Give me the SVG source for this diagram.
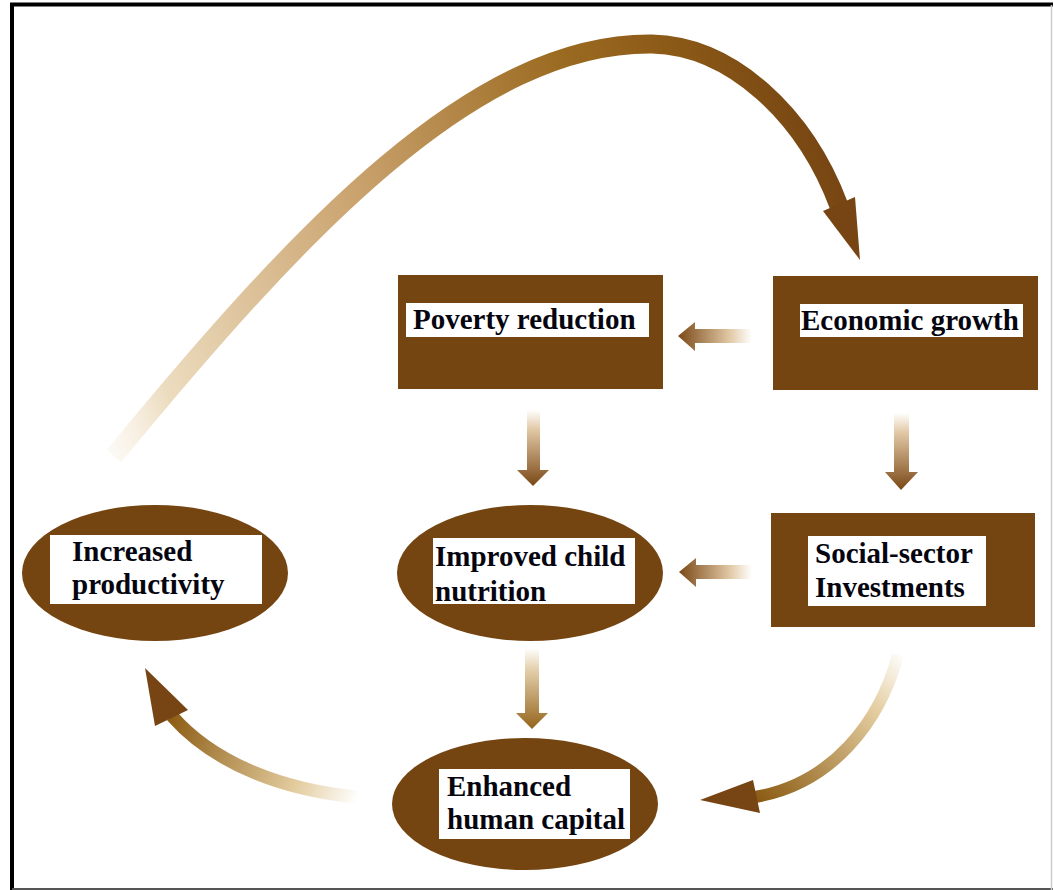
<svg xmlns="http://www.w3.org/2000/svg" width="1053" height="890" viewBox="0 0 1053 890">
  <style>
    .node { fill: #744411; }
    .label { fill: #ffffff; }
    .txt { font-family: "Liberation Serif", "Times New Roman", serif; font-weight: bold; font-size: 29px; fill: #050510; }
    .head { fill: #774514; }
  </style>
  <defs>
    <linearGradient id="gArc" gradientUnits="userSpaceOnUse" x1="105" y1="460" x2="860" y2="180">
      <stop offset="0" stop-color="#f6ecdc" stop-opacity="0.2"/>
      <stop offset="0.1" stop-color="#ecdcbf"/>
      <stop offset="0.4" stop-color="#cba470"/>
      <stop offset="0.7" stop-color="#9c6b22"/>
      <stop offset="0.85" stop-color="#8a5816"/>
      <stop offset="1" stop-color="#734212"/>
    </linearGradient>
    <linearGradient id="gLeft" x1="1" y1="0" x2="0" y2="0">
      <stop offset="0" stop-color="#ffffff"/>
      <stop offset="0.3" stop-color="#e2c9a6"/>
      <stop offset="1" stop-color="#7a4816"/>
    </linearGradient>
    <linearGradient id="gDown" x1="0" y1="0" x2="0" y2="1">
      <stop offset="0" stop-color="#ffffff"/>
      <stop offset="0.25" stop-color="#e2c9a6"/>
      <stop offset="1" stop-color="#7a4816"/>
    </linearGradient>
    <linearGradient id="gDownGold" x1="0" y1="0" x2="0" y2="1">
      <stop offset="0" stop-color="#ffffff"/>
      <stop offset="0.25" stop-color="#e6d2b0"/>
      <stop offset="1" stop-color="#94641a"/>
    </linearGradient>
    <linearGradient id="gLL" gradientUnits="userSpaceOnUse" x1="358" y1="797" x2="170" y2="715">
      <stop offset="0" stop-color="#ffffff"/>
      <stop offset="0.3" stop-color="#e3cc9e"/>
      <stop offset="1" stop-color="#8c5c14"/>
    </linearGradient>
    <linearGradient id="gLR" gradientUnits="userSpaceOnUse" x1="900" y1="650" x2="757" y2="797">
      <stop offset="0" stop-color="#ffffff"/>
      <stop offset="0.3" stop-color="#e3cc9e"/>
      <stop offset="1" stop-color="#8c5c14"/>
    </linearGradient>
  </defs>

  <rect x="0" y="0" width="1053" height="890" fill="#ffffff"/>
  <g id="frame">
    <line x1="10" y1="4.5" x2="1053" y2="4.5" stroke="#000" stroke-width="4"/>
    <line x1="12" y1="3" x2="12" y2="890" stroke="#000" stroke-width="4"/>
    <line x1="12" y1="889" x2="1053" y2="889" stroke="#555" stroke-width="2"/>
    <line x1="1051.5" y1="5" x2="1051.5" y2="890" stroke="#ccc" stroke-width="1.5"/>
  </g>

  <g id="connectors">
    <!-- big arc: Increased productivity -> Economic growth -->
    <path d="M 114 456 C 300 230, 475 42, 652 44 C 732 46, 805 115, 839 206" fill="none" stroke="url(#gArc)" stroke-width="19"/>
    <polygon class="head" points="860,260 823,211 855,197"/>
    <!-- Economic growth -> Poverty reduction -->
    <path d="M 752 329 L 695 329 L 695 322 L 678 336 L 695 351 L 695 343 L 752 343 Z" fill="url(#gLeft)"/>
    <!-- Social-sector -> Improved child nutrition -->
    <path d="M 752 565 L 696 565 L 696 558 L 679 572 L 696 587 L 696 579 L 752 579 Z" fill="url(#gLeft)"/>
    <!-- Poverty reduction -> Improved child nutrition -->
    <path d="M 527 410 L 540 410 L 540 470 L 549 470 L 533 486 L 517 470 L 527 470 Z" fill="url(#gDown)"/>
    <!-- Economic growth -> Social-sector -->
    <path d="M 894 413 L 909 413 L 909 472 L 918 472 L 901 490 L 885 472 L 894 472 Z" fill="url(#gDown)"/>
    <!-- Improved child nutrition -> Enhanced human capital -->
    <path d="M 525 648 L 539 648 L 539 713 L 548 713 L 532 729 L 516 713 L 525 713 Z" fill="url(#gDownGold)"/>
    <!-- Social-sector -> Enhanced human capital -->
    <path d="M 898 655 C 880 722, 832 784, 755 797" fill="none" stroke="url(#gLR)" stroke-width="12"/>
    <polygon class="head" points="700,800 753,780 760,813"/>
    <!-- Enhanced human capital -> Increased productivity -->
    <path d="M 357 797 C 285 790, 215 765, 172 716" fill="none" stroke="url(#gLL)" stroke-width="13"/>
    <polygon class="head" points="145,668 155,726 188,710"/>
  </g>

  <g id="poverty-reduction">
    <rect class="node" x="398" y="275" width="265" height="114"/>
    <rect class="label" x="406" y="303" width="243" height="34"/>
    <text class="txt" x="413" y="329">Poverty reduction</text>
  </g>

  <g id="economic-growth">
    <rect class="node" x="773" y="276" width="265" height="114"/>
    <rect class="label" x="800" y="304" width="223" height="33"/>
    <text class="txt" x="801" y="330">Economic growth</text>
  </g>

  <g id="social-sector">
    <rect class="node" x="771" y="513" width="264" height="114"/>
    <rect class="label" x="808" y="536" width="178" height="70"/>
    <text class="txt" x="815" y="563">Social-sector</text>
    <text class="txt" x="815" y="597">Investments</text>
  </g>

  <g id="increased-productivity">
    <ellipse class="node" cx="155" cy="573" rx="133" ry="68"/>
    <rect class="label" x="50" y="535" width="212" height="69"/>
    <text class="txt" x="72" y="561">Increased</text>
    <text class="txt" x="72" y="594">productivity</text>
  </g>

  <g id="improved-child-nutrition">
    <ellipse class="node" cx="530" cy="573" rx="133" ry="68"/>
    <rect class="label" x="433" y="538" width="202" height="66"/>
    <text class="txt" x="435" y="566">Improved child</text>
    <text class="txt" x="435" y="601">nutrition</text>
  </g>

  <g id="enhanced-human-capital">
    <ellipse class="node" cx="525" cy="804" rx="133" ry="66"/>
    <rect class="label" x="439" y="769" width="191" height="70"/>
    <text class="txt" x="447" y="796">Enhanced</text>
    <text class="txt" x="447" y="829">human capital</text>
  </g>
</svg>
